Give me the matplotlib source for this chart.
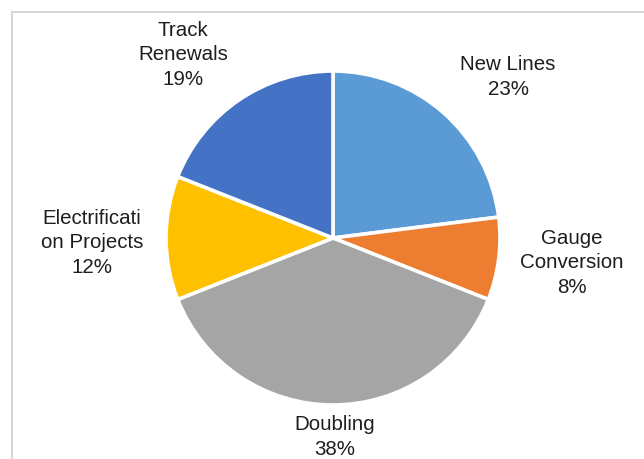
import matplotlib.pyplot as plt
from matplotlib.lines import Line2D

# data
categories = ["New Lines", "Gauge Conversion", "Doubling",
              "Electrification Projects", "Track Renewals"]
shares = [23, 8, 38, 12, 19]
label_text = ["New Lines\n23%", "Gauge\nConversion\n8%", "Doubling\n38%",
              "Electrificati\non Projects\n12%", "Track\nRenewals\n19%"]
colors = ["#5B9BD5", "#ED7D31", "#A5A5A5", "#FFC000", "#4472C4"]

# label centres in pixels (x, y from top)
label_pos = [(508, 77), (572, 263), (335, 437), (92, 243), (183, 55)]

W, H = 644, 459
plt.rcParams['font.family'] = ['Liberation Sans', 'DejaVu Sans']
fig = plt.figure(figsize=(W / 100, H / 100), dpi=100)
fig.patch.set_facecolor('white')

# circular pie, centre and radius in pixels
cx, cy, r = 333, 238, 167
ax = fig.add_axes([(cx - r) / W, (H - cy - r) / H, 2 * r / W, 2 * r / H])
ax.pie(shares, colors=colors, startangle=90, counterclock=False,
       wedgeprops=dict(edgecolor='white', linewidth=2.6))
ax.set_xlim(-1, 1)
ax.set_ylim(-1, 1)
ax.axis('off')

for txt, (px, py) in zip(label_text, label_pos):
    fig.text(px / W, 1 - py / H, txt, ha='center', va='center',
             fontsize=14.8, color='#1e1e1e', linespacing=1.38)

# chart-area border (left and top edges visible)
fig.add_artist(Line2D([11.5 / W, 11.5 / W], [0, 1 - 11.5 / H],
                      transform=fig.transFigure, color='#D0D0D0', lw=1.2))
fig.add_artist(Line2D([11.5 / W, 1], [1 - 11.5 / H, 1 - 11.5 / H],
                      transform=fig.transFigure, color='#D0D0D0', lw=1.2))

fig.savefig("out.png", dpi=100)
